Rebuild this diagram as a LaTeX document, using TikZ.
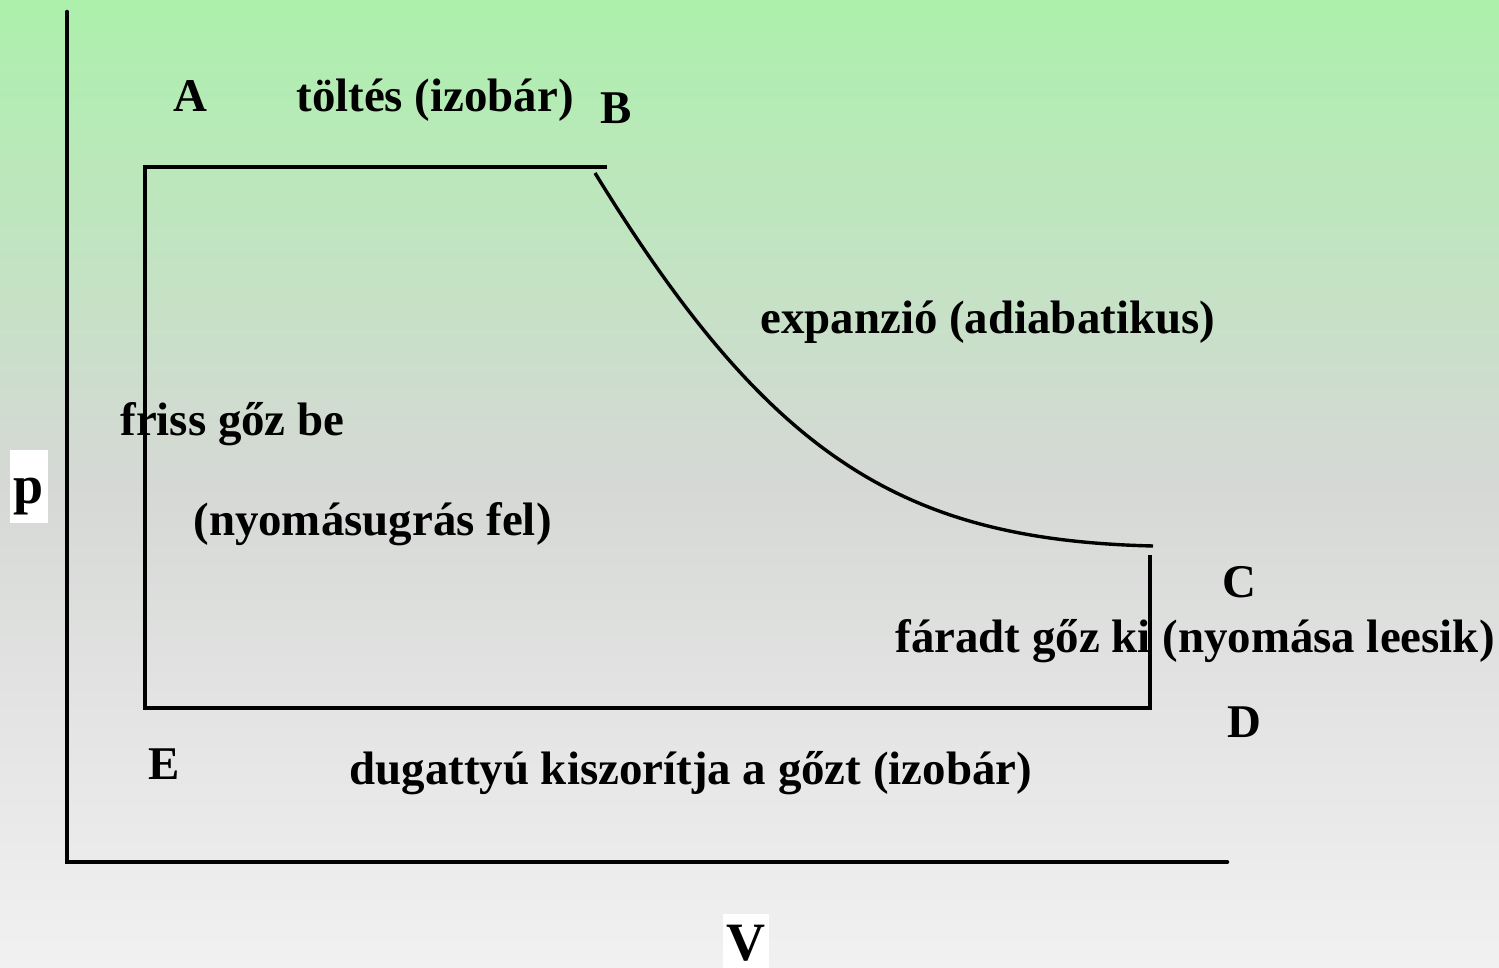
\documentclass[tikz,border=0pt]{standalone}
\usepackage{fontspec}
\setmainfont{Liberation Serif}
\begin{document}
\begin{tikzpicture}[x=0.5pt,y=-0.5pt,
  lbl/.style={anchor=base west,inner sep=0pt,font=\fontsize{23.45}{28}\selectfont\bfseries},
  axisbox/.style={inner sep=0pt,font=\fontsize{27}{30}\selectfont\bfseries},
  axisline/.style={line width=2.3pt,line cap=round},
  cycleline/.style={line width=1.7pt}]
\useasboundingbox (0,0) rectangle (1499,968);
\definecolor{gtop}{RGB}{172,240,172}
\definecolor{gmid}{RGB}{214,216,214}
\definecolor{gbot}{RGB}{241,241,241}
\shade[top color=gtop,bottom color=gmid] (0,0) rectangle (1499,485);
\shade[top color=gmid,bottom color=gbot] (0,484) rectangle (1499,968);
% axes
\coordinate (ytop) at (67,12);
\coordinate (orig) at (67,862);
\coordinate (xend) at (1227,862);
\draw[axisline] (ytop) -- (orig) -- (xend);
% cycle
\coordinate (a) at (145,167);
\coordinate (b) at (607,167);
\coordinate (b2) at (595,173);
\coordinate (c) at (1153,546);
\coordinate (c2) at (1150,555);
\coordinate (d) at (1150,708);
\coordinate (e) at (145,708);
\draw[cycleline] (b) -- (a) -- (e) -- (d) -- (c2);
\draw[cycleline] (b2) .. controls (770,458) and (903,540) .. (c);
% labels
\node[lbl] (lA) at (173,112) {A};
\node[lbl] (lfill) at (296,112) {töltés (izobár)};
\node[lbl] (lB) at (600,124) {B};
\node[lbl] (lexp) at (760,333) {expanzió (adiabatikus)};
\node[lbl] (lfr) at (120,435) {friss gőz be};
\node[lbl] (lny) at (193,535) {(nyomásugrás fel)};
\node[lbl] (lC) at (1222,597) {C};
\node[lbl] (lfa) at (895,652) {fáradt gőz ki (nyomása leesik)};
\node[lbl] (lD) at (1227,737) {D};
\node[lbl] (lE) at (148,779) {E};
\node[lbl] (ldug) at (349,784) {dugattyú kiszorítja a gőzt (izobár)};
% axis names
\fill[white] (10,450) rectangle (48,523);
\node[axisbox,anchor=base] (lp) at (29,503) {p};
\fill[white] (723,914) rectangle (769,968);
\node[axisbox,anchor=base] (lV) at (746,960) {V};
\end{tikzpicture}
\end{document}
